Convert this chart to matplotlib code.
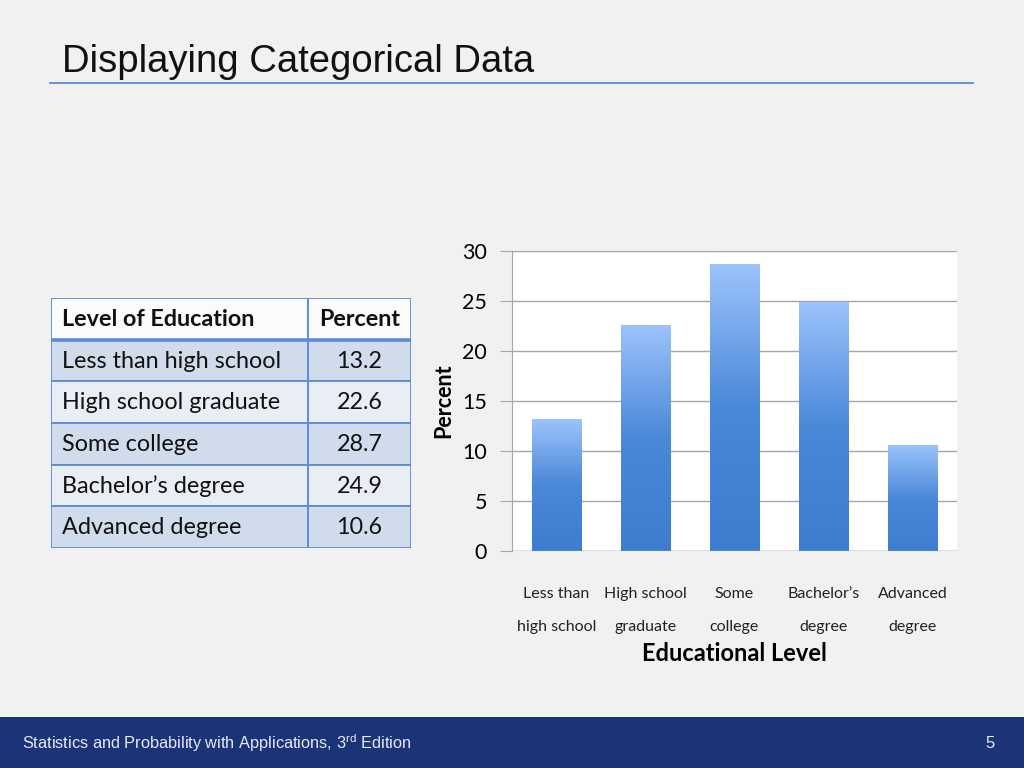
import numpy as np
import matplotlib.pyplot as plt
from matplotlib.patches import Rectangle
from matplotlib.colors import LinearSegmentedColormap

# data
levels = ['Less than high school', 'High school graduate', 'Some college',
          "Bachelor\u2019s degree", 'Advanced degree']
percents = [13.2, 22.6, 28.7, 24.9, 10.6]
tick_labels = ['Less than\nhigh school', 'High school\ngraduate', 'Some\ncollege',
               "Bachelor\u2019s\ndegree", 'Advanced\ndegree']
header = ['Level of Education', 'Percent']

body_font = ['Lato', 'DejaVu Sans']
narrow_font = ['Liberation Sans Narrow', 'Liberation Sans', 'DejaVu Sans']

fig = plt.figure(figsize=(10.24, 7.68), dpi=100)
fig.patch.set_facecolor('#f1f1f1')

# title and rule
fig.text(62 / 1024, 1 - 62 / 768, 'Displaying Categorical Data', fontsize=27.5,
         family=narrow_font, color='#111111', va='center', ha='left')
fig.add_artist(plt.Line2D([50 / 1024, 973 / 1024], [1 - 83 / 768] * 2,
                          color='#5b8bd6', lw=1.3))

# footer band
fig.add_artist(Rectangle((0, 0), 1, 51 / 768, transform=fig.transFigure,
                         facecolor='#1b3478', edgecolor='none'))
fig.text(22 / 1024, 1 - 743 / 768,
         r'Statistics and Probability with Applications, 3$^{\mathregular{rd}}$ Edition',
         fontsize=11.8, family=narrow_font, color='#e6e9f2', va='center', ha='left')
fig.text(990 / 1024, 1 - 743 / 768, '5', fontsize=12, family=narrow_font,
         color='#e6e9f2', va='center', ha='center')

# bar chart
ax = fig.add_axes([512 / 1024, 1 - 551 / 768, 445 / 1024, 300 / 768])
ax.set_facecolor('white')
x = np.arange(len(percents))
w = 0.56
grad = np.linspace(0, 1, 256).reshape(-1, 1)
cmap = LinearSegmentedColormap.from_list('bar', ['#3d7dd0', '#4a88d8', '#9cc3fb'])
for xi, v in zip(x, percents):
    ax.imshow(grad, extent=(xi - w / 2, xi + w / 2, 0, v), origin='lower',
              cmap=cmap, aspect='auto', zorder=3)
ax.set_xlim(-0.5, len(percents) - 0.5)
ax.set_ylim(0, 30)
ax.set_yticks(range(0, 31, 5))
ax.yaxis.grid(True, color='#a6a6a6', lw=1)
ax.set_axisbelow(True)
for s in ['top', 'right', 'bottom']:
    ax.spines[s].set_visible(False)
ax.spines['left'].set_color('#a6a6a6')
ax.tick_params(axis='y', length=9, color='#a6a6a6', labelsize=15.5, pad=9)
ax.tick_params(axis='x', length=0, labelsize=11.5, pad=26)
for lab in ax.get_yticklabels():
    lab.set_family(body_font)
ax.set_xticks(x)
ax.set_xticklabels(tick_labels, family=body_font, linespacing=2.7, color='#222222')
ax.axhline(0, color='#a6a6a6', lw=1, zorder=4)
ax.set_ylabel('Percent', fontsize=15.5, fontweight='bold', family=body_font, labelpad=6)
ax.set_xlabel('Educational Level', fontsize=17, fontweight='bold',
              family=body_font, labelpad=6)

# table
tax = fig.add_axes([51 / 1024, 1 - 548 / 768, 360 / 1024, 250 / 768])
tax.set_xlim(0, 360)
tax.set_ylim(len(levels) + 1, 0)
tax.axis('off')
col_x = [0, 257, 360]
border = '#5b8bd6'
rows = [header] + [[l, f'{p:.1f}'] for l, p in zip(levels, percents)]
for r, row in enumerate(rows):
    if r == 0:
        fc = '#fbfbfb'
    elif r % 2 == 1:
        fc = '#d0dcec'
    else:
        fc = '#e9eef5'
    for c in range(2):
        tax.add_patch(Rectangle((col_x[c], r), col_x[c + 1] - col_x[c], 1,
                                facecolor=fc, edgecolor=border, lw=1.3))
    weight = 'bold' if r == 0 else 'normal'
    tax.text(11, r + 0.52, row[0], fontsize=16.8, fontweight=weight, family=body_font,
             va='center', ha='left', color='#111111')
    tax.text((col_x[1] + col_x[2]) / 2, r + 0.52, row[1], fontsize=16.8,
             fontweight=weight, family=body_font, va='center', ha='center',
             color='#111111')
tax.plot([0, 360], [1, 1], color=border, lw=2.6)

fig.savefig('out.png', dpi=100, facecolor=fig.get_facecolor())
